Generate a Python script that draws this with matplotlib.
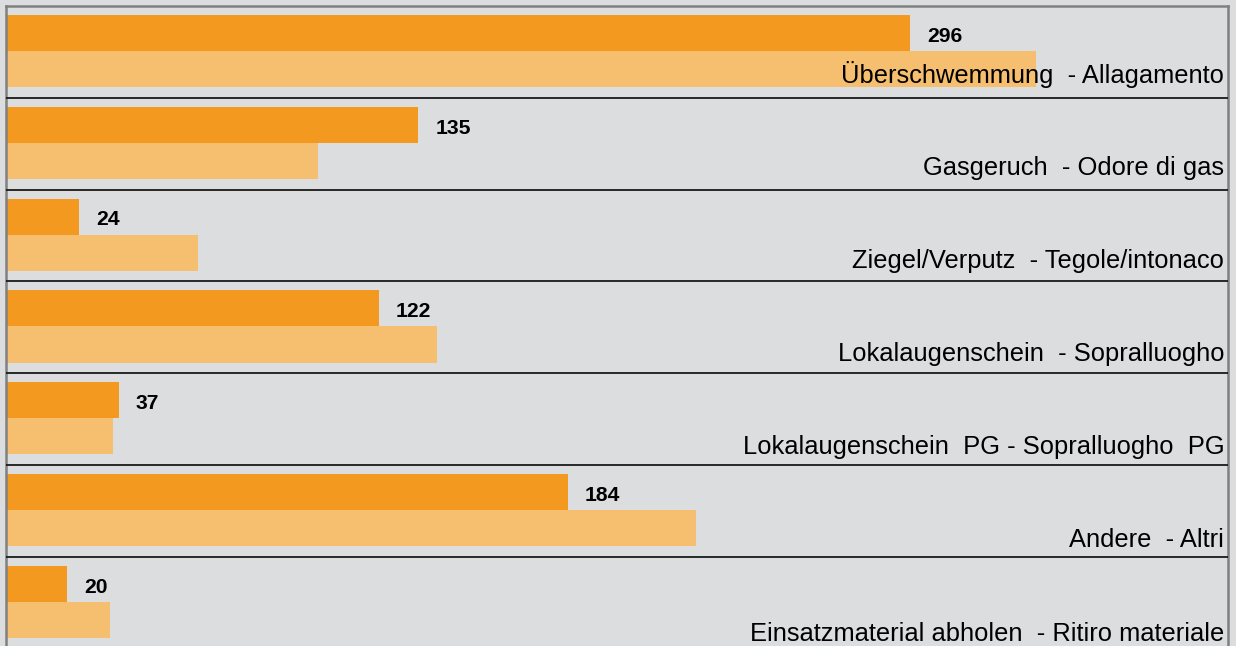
import matplotlib.pyplot as plt
import numpy as np

plt.rcParams['font.family'] = ['Liberation Sans', 'DejaVu Sans']

categories = ["Überschwemmung  - Allagamento",
              "Gasgeruch  - Odore di gas",
              "Ziegel/Verputz  - Tegole/intonaco",
              "Lokalaugenschein  - Sopralluogho",
              "Lokalaugenschein  PG - Sopralluogho  PG",
              "Andere  - Altri",
              "Einsatzmaterial abholen  - Ritiro materiale"]
current = [296, 135, 24, 122, 37, 184, 20]
previous = [337, 102, 63, 141, 35, 226, 34]

bg = "#dcdddf"
dark = "#f4991f"
light = "#f6bf6f"

fig = plt.figure(figsize=(12.36, 6.46), dpi=100, facecolor=bg)
W, H = 1236, 646
top_px, left_px, right_px = 6, 6, 1228
group_px = 91.8
n = len(categories)
bottom_px = top_px + n * group_px
ax = fig.add_axes([left_px / W, 1 - bottom_px / H,
                   (right_px - left_px) / W, (bottom_px - top_px) / H])
ax.set_facecolor(bg)

idx = np.arange(n)
bh = 0.395
ax.barh(idx + 0.098 + bh / 2, current, height=bh, color=dark, zorder=2)
ax.barh(idx + 0.49 + bh / 2, previous, height=bh, color=light, zorder=2)

# category labels sit on a slightly wider pitch than the groups
label_pitch = 93.2 / group_px
for i, v in enumerate(current):
    ax.text(v + 5.5, i + 0.33, str(v), fontsize=15.2, fontweight='bold',
            va='center', ha='left', zorder=4)
    ax.text(398.8, 0.745 + i * label_pitch, categories[i], fontsize=18.4,
            ha='right', va='center', zorder=4)

for i in range(1, n):
    ax.axhline(i, color='#1a1a1a', lw=1.3, zorder=3)

ax.set_xlim(0, 400)
ax.set_ylim(n, 0)
ax.set_xticks([])
ax.set_yticks([])
for s in ['left', 'top', 'right']:
    ax.spines[s].set_color('#808080')
    ax.spines[s].set_linewidth(1.8)
ax.spines['bottom'].set_visible(False)

fig.savefig("out.png", dpi=100, facecolor=bg)
